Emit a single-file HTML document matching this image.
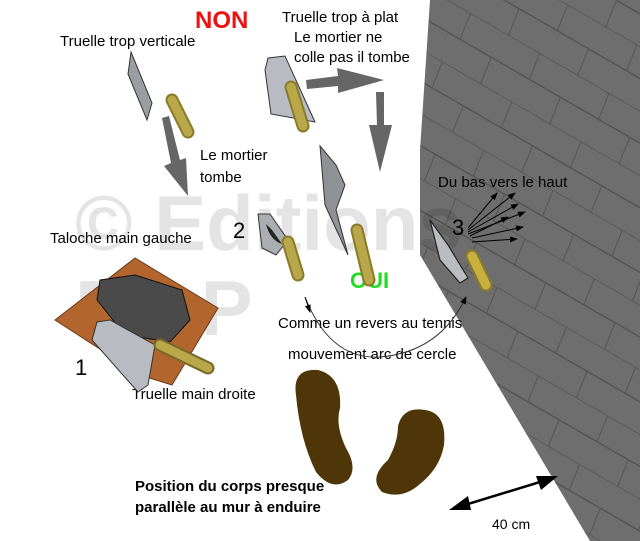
<!DOCTYPE html>
<html><head><meta charset="utf-8"><style>
html,body{margin:0;padding:0;background:#fff;}
svg{display:block;}
text{font-family:"Liberation Sans",sans-serif;}
</style></head><body>
<svg width="640" height="541" viewBox="0 0 640 541" xmlns="http://www.w3.org/2000/svg">
<defs>
<pattern id="brick" width="80" height="56" patternUnits="userSpaceOnUse" patternTransform="rotate(30)">
<rect width="80" height="56" fill="#6e6e6e"/>
<line x1="0" y1="0" x2="80" y2="0" stroke="#505050" stroke-width="1.2"/>
<line x1="0" y1="28" x2="80" y2="28" stroke="#505050" stroke-width="1.2"/>
<line x1="14" y1="0" x2="18" y2="28" stroke="#555" stroke-width="1"/>
<line x1="54" y1="28" x2="58" y2="56" stroke="#555" stroke-width="1"/>
</pattern>
<marker id="ah" markerWidth="8" markerHeight="8" refX="7" refY="4" orient="auto"><path d="M0,1 L8,4 L0,7 Z" fill="#000"/></marker>
</defs>
<polygon points="430,0 640,0 640,541 590,541 420,255 420,150" fill="url(#brick)"/>
<text x="75" y="250" font-size="78" font-weight="bold" fill="#000" opacity="0.1">© Editions</text>
<text x="75" y="335" font-size="78" font-weight="bold" fill="#000" opacity="0.1">BILP</text>

<text x="195" y="28" font-size="24" font-weight="bold" fill="#ee1111">NON</text>
<text x="282" y="22" font-size="15" fill="#000">Truelle trop à plat</text>
<text x="294" y="42" font-size="15" fill="#000">Le mortier ne</text>
<text x="294" y="62" font-size="15" fill="#000">colle pas il tombe</text>
<text x="60" y="46" font-size="15" fill="#000">Truelle trop verticale</text>
<text x="200" y="160" font-size="15" fill="#000">Le mortier</text>
<text x="200" y="182" font-size="15" fill="#000">tombe</text>
<text x="50" y="243" font-size="15" fill="#000">Taloche main gauche</text>
<text x="233" y="238" font-size="22" fill="#000">2</text>
<text x="452" y="235" font-size="22" fill="#000">3</text>
<text x="438" y="187" font-size="15" fill="#000">Du bas vers le haut</text>
<text x="350" y="288" font-size="22" font-weight="bold" fill="#22dd22">OUI</text>
<text x="278" y="328" font-size="15" fill="#000">Comme un revers au tennis</text>
<text x="288" y="359" font-size="15" fill="#000">mouvement arc de cercle</text>
<text x="75" y="375" font-size="22" fill="#000">1</text>
<text x="132" y="399" font-size="15" fill="#000">Truelle main droite</text>
<text x="135" y="491" font-size="15" font-weight="bold" fill="#000">Position du corps presque</text>
<text x="135" y="512" font-size="15" font-weight="bold" fill="#000">parallèle au mur à enduire</text>
<text x="492" y="529" font-size="14" fill="#000">40 cm</text>

<g fill="#666">
<polygon points="162,118 169,116 180,160 186,158 188,196 164,166 171,163"/>
<polygon points="306,80 338,76 337,68 384,80 338,93 338,86 307,89"/>
<polygon points="376,92 384,92 384,125 392,125 380,172 369,125 377,125"/>
</g>

<polygon points="131,52 152,103 147,120 128,74" fill="#9a9ea3" stroke="#333" stroke-width="1"/>
<line x1="172" y1="100" x2="188" y2="132" stroke="#8a7a2a" stroke-width="13" stroke-linecap="round"/>
<line x1="172" y1="100" x2="188" y2="132" stroke="#b8a84a" stroke-width="9" stroke-linecap="round"/>
<polygon points="268,58 285,56 315,122 271,114 265,70" fill="#b8bcc2" stroke="#333" stroke-width="1"/>
<line x1="291" y1="87" x2="303" y2="126" stroke="#8a7a2a" stroke-width="13" stroke-linecap="round"/>
<line x1="291" y1="87" x2="303" y2="126" stroke="#b8a84a" stroke-width="9" stroke-linecap="round"/>
<polygon points="320,146 336,165 345,185 336,210 348,255 325,205" fill="#8e9297" stroke="#333" stroke-width="1"/>
<line x1="357" y1="230" x2="369" y2="280" stroke="#8a7a2a" stroke-width="13" stroke-linecap="round"/>
<line x1="357" y1="230" x2="369" y2="280" stroke="#b8a84a" stroke-width="9" stroke-linecap="round"/>
<polygon points="258,214 270,214 288,240 276,255 262,248" fill="#aaaeb3" stroke="#333" stroke-width="1"/>
<path d="M266,224 Q270,240 282,244 L272,230 Z" fill="#222"/>
<line x1="288" y1="242" x2="298" y2="275" stroke="#8a7a2a" stroke-width="13" stroke-linecap="round"/>
<line x1="288" y1="242" x2="298" y2="275" stroke="#b8a84a" stroke-width="9" stroke-linecap="round"/>
<polygon points="430,220 448,245 468,278 460,283 440,260" fill="#b9bdc2" stroke="#222" stroke-width="1.2"/>
<line x1="472" y1="256" x2="486" y2="285" stroke="#8a7a2a" stroke-width="13" stroke-linecap="round"/>
<line x1="472" y1="256" x2="486" y2="285" stroke="#c8b040" stroke-width="9" stroke-linecap="round"/>
<g stroke="#000" stroke-width="1" marker-end="url(#ah)">
<line x1="468" y1="228" x2="497" y2="193"/>
<line x1="468" y1="230" x2="515" y2="193"/>
<line x1="468" y1="232" x2="518" y2="204"/>
<line x1="468" y1="234" x2="525" y2="212"/>
<line x1="470" y1="236" x2="508" y2="217"/>
<line x1="472" y1="238" x2="523" y2="227"/>
<line x1="472" y1="242" x2="517" y2="239"/>
</g>

<path d="M305,297 Q330,360 380,357 Q440,352 466,297" fill="none" stroke="#333" stroke-width="1" marker-end="url(#ah)"/>
<path d="M305,297 L310,312" stroke="#000" stroke-width="1" marker-end="url(#ah)"/>

<polygon points="55,320 135,258 218,308 172,385 140,375" fill="#b3652e" stroke="#6b3a18" stroke-width="1"/>
<polygon points="100,280 135,275 182,290 190,320 170,342 125,335 97,300" fill="#4a4a4a" stroke="#111" stroke-width="1"/>
<polygon points="97,322 110,320 155,345 148,385 138,392 92,340" fill="#b8bcc2" stroke="#333" stroke-width="1"/>
<line x1="160" y1="345" x2="208" y2="368" stroke="#7a6a2a" stroke-width="13" stroke-linecap="round"/>
<line x1="160" y1="345" x2="208" y2="368" stroke="#b8a84a" stroke-width="9" stroke-linecap="round"/>

<path d="M296,395 Q292,368 318,370 Q342,376 340,408 Q335,425 346,448 Q358,468 348,480 Q332,492 316,472 Q300,440 296,395 Z" fill="#4f3609"/>
<path d="M425,410 Q447,413 444,445 Q440,468 420,484 Q402,500 382,492 Q368,478 388,460 Q398,442 398,426 Q403,406 425,410 Z" fill="#4f3609"/>

<line x1="455" y1="508" x2="553" y2="478" stroke="#000" stroke-width="2.5"/>
<polygon points="449,510 468,496 471,510" fill="#000"/>
<polygon points="558,476 536,476 541,490" fill="#000"/>
</svg>
</body></html>
